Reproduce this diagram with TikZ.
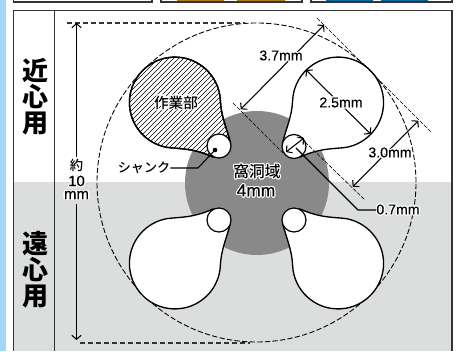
\documentclass[tikz,border=0pt]{standalone}
\usepackage{fontspec}
\usepackage[copies]{contour}
\setmainfont{Liberation Sans}[RawFeature={embolden=0.3}]
\newfontfamily\jp{Noto Sans CJK JP Medium}
\newfontfamily\jpb{Noto Sans CJK JP Black}
\usetikzlibrary{arrows.meta}
\contourlength{.8pt}
\definecolor{bandblue}{HTML}{A0D8F5}
\definecolor{bandgrey}{HTML}{DCDDDD}
\definecolor{discgrey}{HTML}{898989}
\definecolor{tabor}{HTML}{B57A1C}
\definecolor{tabbl}{HTML}{0A68A5}
\definecolor{framec}{HTML}{333333}
\tikzset{
  framebox/.style={draw=framec,line width=1.2,fill=white},
  bigdash/.style={draw=black,line width=.65,dash pattern=on 4 off 1.7},
  tandash/.style={draw=black,line width=.45,dash pattern=on 3 off 1.2},
  hdash/.style={draw=framec,line width=.8,dash pattern=on 4 off 2},
  headshape/.style={draw=black,line width=1,fill=white},
  dimarrow/.style={draw=black,line width=.8,{Straight Barb[length=3,width=7,line width=.8]}-{Straight Barb[length=3,width=7,line width=.8]}},
  endarrow/.style={draw=black,line width=.8,-{Straight Barb[length=3,width=7,line width=.8]}},
  leader/.style={draw=black,line width=.8},
  dimlabel/.style={inner sep=0,font=\fontsize{10.6}{12}\selectfont},
  jlabel/.style={inner sep=0,font=\jp\fontsize{11}{13}\selectfont},
  sidelabel/.style={inner sep=0,align=center,font=\jpb\fontsize{19.5}{19.5}\selectfont},
}
\newcommand\tearP{(292.6,250) arc[start angle=178,end angle=-80,radius=45.5]
  .. controls (333,202) and (320,203) .. (300,194) -- (282.5,208)
  .. controls (286,222) and (292,235) .. (292.6,250) -- cycle}
\begin{document}
\begin{tikzpicture}[x=.75pt,y=.75pt]
\useasboundingbox (0,0) rectangle (458,351);
\clip (0,0) rectangle (458,351);
\fill[white] (0,0) rectangle (458,351);
\fill[bandblue] (0,0) rectangle (6,351);
% top tabs
\path[framebox] (13.5,360) rectangle (152,349);
\path[framebox] (161,360) rectangle (302,349);
\path[framebox] (311,360) rectangle (452,349);
\fill[tabor] (177,350) rectangle (224,352) (237,350) rectangle (285,352);
\fill[tabbl] (326,350) rectangle (373,352) (381,350) rectangle (428,352);
% main panel
\fill[bandgrey] (14,0) rectangle (452,169);
\path[draw=framec,line width=1.3] (13.5,-5) -- (13.5,340.5) -- (452,340.5) -- (452,-5);
\draw[framec,line width=1.3] (54.5,-5) -- (54.5,340.5);
% disc and outer circle
\fill[discgrey] (257,168) circle (72);
\draw[bigdash] (256.5,168.5) circle (159.5);
\draw[hdash] (67,328) -- (245,328);
\draw[hdash] (80,8) -- (250,8);
% heads
\path[headshape] \tearP;
\begin{scope}[shift={(0,336)},yscale=-1]
  \path[headshape] \tearP;
\end{scope}
\begin{scope}[shift={(513,336)},xscale=-1,yscale=-1]
  \path[headshape] \tearP;
\end{scope}
\begin{scope}[shift={(513,0)},xscale=-1]
  \path[headshape] \tearP;
  \begin{scope}
    \clip \tearP;
    \foreach \k in {-40,...,40}
      \draw[black,line width=.5] ({338+\k*5-120},369) -- ++(240,-240);
  \end{scope}
  \path[draw=black,line width=1] \tearP;
\end{scope}
% shanks
\foreach \n/\cx/\cy in {sa/219/205,sb/294/204.5,sc/219/131,sd/294/131}
  \path[draw=black,line width=.9,fill=white] (\cx,\cy) circle (12) coordinate (\n);
% tangents
\draw[tandash] (317,333) -- (431.7,218.3);
\draw[tandash] (233,248) -- (283,198);
\draw[tandash] (305,209) -- (365,151);
% dimension coordinates
\coordinate (p37a) at (240.7,241.7); \coordinate (p37b) at (324,326);
\coordinate (p25a) at (306,281); \coordinate (p25b) at (370.7,217);
\coordinate (p30a) at (352.7,164.3); \coordinate (p30b) at (418.3,230.3);
\coordinate (p07a) at (286,199); \coordinate (p07b) at (304,213);
\coordinate (v1) at (76.5,328); \coordinate (v2) at (76.5,11);
\coordinate (v1i) at (76.5,194); \coordinate (v2i) at (76.5,147);
\coordinate (lk1) at (198,183); \coordinate (lk2) at (215,201);
\coordinate (l1) at (296,203); \coordinate (l2) at (358,141);
% vertical arrow, broken by its label
\draw[endarrow] (v1i) -- (v1);
\draw[endarrow] (v2i) -- (v2);
\node[fill=white,rounded corners=1.5,inner sep=.5,font=\fontsize{11.2}{12}\selectfont] (yakumm) at (76.5,156) {mm};
\node[inner sep=0,font=\fontsize{11.2}{12}\selectfont] (yakuten) at (76.5,169.5) {\contour{white}{10}};
\node[inner sep=0,font=\jp\fontsize{10}{11}\selectfont] (yaku) at (76.5,185.5) {\contour{white}{約}};
% dims
\draw[dimarrow] (p37a) -- (p37b);
\draw[dimarrow] (p25a) -- (p25b);
\draw[dimarrow] (p30a) -- (p30b);
\draw[dimarrow] (p07a) -- (p07b);
\node[dimlabel] (t37) at (281,295) {\contour{white}{3.7mm}};
\node[dimlabel] (t25) at (341,248) {\contour{white}{2.5mm}};
\node[dimlabel] (t30) at (390,198) {\contour{white}{3.0mm}};
\node[dimlabel] (t07) at (398,141) {\contour{white}{0.7mm}};
\draw[leader] (l1) -- (l2) -- (t07.west);
% labels
\node[jlabel] (work) at (176,248) {\contour{white}{作業部}};
\node[jlabel,font=\jp\fontsize{9.8}{12}\selectfont] (shank) at (144,183) {\contour{white}{シャンク}};
\draw[leader] (shank.east) -- (lk1) -- (lk2);
\fill[black] (lk2) circle (2.3);
\node[jlabel,font=\jp\fontsize{11.8}{13}\selectfont] (cav) at (257,179) {\contour{white}{窩洞域}};
\node[dimlabel,font=\fontsize{13}{14}\selectfont] (four) at (256,160) {\contour{white}{4mm}};
\node[sidelabel] (near) at (35,254) {近\\心\\用};
\node[sidelabel] (far) at (35,81) {遠\\心\\用};
\end{tikzpicture}
\end{document}
